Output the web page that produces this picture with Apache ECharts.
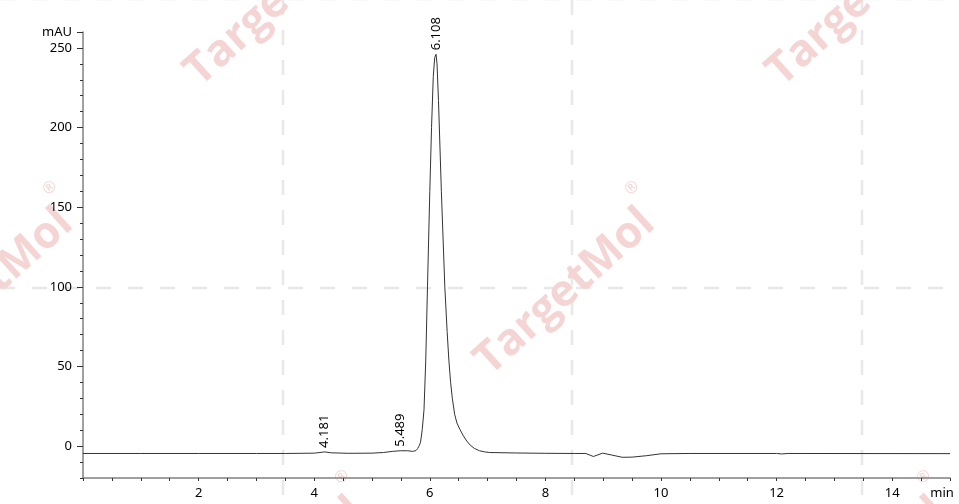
<!DOCTYPE html>
<html>
<head>
<meta charset="utf-8">
<script src="https://cdn.jsdelivr.net/npm/echarts@6/dist/echarts.min.js"></script>
<style>
  html, body { margin: 0; padding: 0; background: #fff; }
  #chart { width: 959px; height: 504px; }
</style>
</head>
<body>
<div id="chart"></div>
<script>
// retention time (min) and signal (mAU)
const times = [
  0, 1, 2, 3, 3.5, 4.0, 4.1, 4.18, 4.3, 4.6, 5.0, 5.2, 5.35, 5.49, 5.62, 5.70,
  5.76, 5.79, 5.82, 5.84, 5.87, 5.90, 5.93, 5.96, 6.00, 6.03, 6.06, 6.085, 6.108,
  6.125, 6.15, 6.20, 6.26, 6.30, 6.33, 6.36, 6.39, 6.43, 6.47, 6.52, 6.58, 6.64,
  6.70, 6.77, 6.86, 6.95, 7.03, 7.5, 8.0,
  8.5, 8.70, 8.83, 8.99, 9.15, 9.33, 9.5, 9.75, 10.0, 10.5, 12.0, 12.09, 12.2, 15
];
const signal = [
  -4.6, -4.6, -4.6, -4.6, -4.6, -4.4, -4.0, -3.6, -4.2, -4.5, -4.4, -4.0, -3.3, -2.9, -2.9, -3.3,
  -2.8, -1.5, 0.5, 2.5, 10.6, 23, 54, 100, 160, 200, 232, 244, 246,
  240, 217, 160, 100, 72, 54, 40, 30, 20, 14.5, 10.6, 6.5, 3.2,
  0.6, -1.4, -2.9, -3.6, -4.0, -4.3, -4.5,
  -4.6, -4.6, -6.5, -4.4, -5.6, -7.0, -6.9, -6.0, -4.8, -4.6, -4.6, -4.9, -4.6, -4.7
];

// labelled peaks
const peakTimes = [4.181, 5.489, 6.108];
const peakSignal = [-3.6, -2.9, 246];

// axis ticks and labels
const xLabelValues = [2, 4, 6, 8, 10, 12, 14, 15];
const yMajorValues = [0, 50, 100, 150, 200, 250, 260];

const chart = echarts.init(document.getElementById('chart'));

const font = 'Noto Sans';
const axisColor = '#808080';

// watermark: dashed crosshair lines and rotated logo text
const wmColor = '#f5d4d4';
const wmGraphics = [];
[-7, 283, 572, 862].forEach(x => {
  wmGraphics.push({
    type: 'line', silent: true, z: -10,
    shape: { x1: x, y1: 0, x2: x, y2: 504 },
    style: { stroke: '#e8e8e8', lineWidth: 2.5, lineDash: [15, 15] }
  });
});
[-1, 288].forEach(y => {
  wmGraphics.push({
    type: 'line', silent: true, z: -10,
    shape: { x1: 0, y1: y, x2: 959, y2: y },
    style: { stroke: '#e8e8e8', lineWidth: 2.5, lineDash: [15, 17] }
  });
});
const rot = 42 * Math.PI / 180;
[[-17, 292], [565, 292], [1147, 292], [275, 3], [857, 3], [275, 581], [857, 581]].forEach(([cx, cy]) => {
  wmGraphics.push({
    type: 'text', silent: true, z: -5,
    x: cx, y: cy, rotation: rot,
    style: {
      text: 'TargetMol', fill: wmColor,
      font: 'bold 44px "Open Sans"', align: 'center', verticalAlign: 'middle'
    }
  });
  wmGraphics.push({
    type: 'text', silent: true, z: -5,
    x: cx + 67, y: cy - 104, rotation: rot,
    style: {
      text: '®', fill: wmColor,
      font: '16px "Open Sans"', align: 'center', verticalAlign: 'middle'
    }
  });
});

const option = {
  animation: false,
  backgroundColor: '#fff',
  graphic: wmGraphics,
  grid: { left: 83, right: 9, top: 32, bottom: 26, outerBoundsMode: 'none' },
  xAxis: {
    type: 'value',
    min: 0,
    max: 15,
    interval: 0.5,
    axisLine: { show: true, onZero: false, lineStyle: { color: axisColor, width: 1.5 } },
    axisTick: { show: true, length: 3, lineStyle: { color: '#333' } },
    axisLabel: {
      customValues: xLabelValues,
      color: '#000',
      fontFamily: font,
      fontSize: 13,
      margin: 9,
      formatter: v => v === 15 ? '{m|min}' : String(v),
      rich: { m: { fontFamily: font, fontSize: 13, color: '#000', padding: [0, 16, 0, 0] } }
    },
    splitLine: { show: false }
  },
  yAxis: [
    {
      type: 'value',
      min: -20,
      max: 260,
      interval: 10,
      axisLine: { show: true, onZero: false, lineStyle: { color: axisColor, width: 1.5 } },
      axisTick: { show: true, length: 3, lineStyle: { color: '#333' } },
      axisLabel: { show: false },
      splitLine: { show: false }
    },
    {
      type: 'value',
      position: 'left',
      min: -20,
      max: 260,
      interval: 10,
      axisLine: { show: false },
      axisTick: { show: true, length: 6, customValues: yMajorValues, lineStyle: { color: '#333' } },
      axisLabel: {
        customValues: yMajorValues,
        color: '#000',
        fontFamily: font,
        fontSize: 13,
        margin: 11,
        formatter: v => v === 260 ? 'mAU' : String(v)
      },
      splitLine: { show: false }
    }
  ],
  series: [
    {
      type: 'line',
      yAxisIndex: 0,
      data: times.map((t, i) => [t, signal[i]]),
      showSymbol: false,
      symbol: 'none',
      lineStyle: { color: '#333', width: 1 },
      z: 5,
      markPoint: {
        symbol: 'circle',
        symbolSize: 0,
        silent: true,
        data: peakTimes.map((t, i) => ({
          coord: [t, peakSignal[i]],
          value: t.toFixed(3)
        })),
        label: {
          show: true,
          position: 'top',
          distance: 4,
          rotate: 90,
          align: 'left',
          verticalAlign: 'middle',
          color: '#000',
          fontFamily: font,
          fontSize: 13,
          formatter: p => p.value
        }
      }
    }
  ]
};

chart.setOption(option);
</script>
</body>
</html>
